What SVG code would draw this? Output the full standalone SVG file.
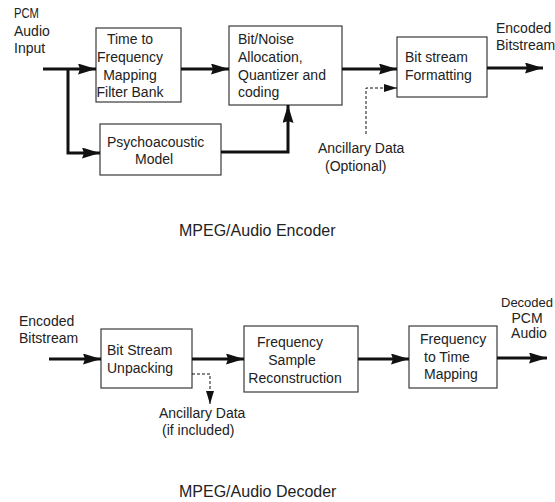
<svg xmlns="http://www.w3.org/2000/svg" width="555" height="502" viewBox="0 0 555 502">
  <style>
    .box { fill: #ffffff; stroke: #3a3a3a; stroke-width: 1.2; }
    .lbl { font-family: "Liberation Sans", Arial, sans-serif; font-size: 14px; fill: #222222; }
    .title { font-family: "Liberation Sans", Arial, sans-serif; font-size: 16px; fill: #222222; }
    .mid { text-anchor: middle; }
    .flow { fill: none; stroke: #111111; stroke-width: 3; }
    .aux { fill: none; stroke: #111111; stroke-width: 1; stroke-dasharray: 3 2; }
  </style>
  <defs>
    <marker id="head" markerUnits="userSpaceOnUse" markerWidth="18" markerHeight="11" refX="18" refY="5.5" orient="auto">
      <path d="M0,0 L18,5.5 L0,11 L2,5.5 Z" fill="#111111"/>
    </marker>
    <marker id="headSmall" markerUnits="userSpaceOnUse" markerWidth="13" markerHeight="8" refX="13" refY="4" orient="auto">
      <path d="M0,0 L13,4 L0,8 Z" fill="#111111"/>
    </marker>
  </defs>

  <rect width="555" height="502" fill="#ffffff"/>

  <!-- Encoder -->
  <g id="pcm-input">
    <text class="lbl" x="14" y="18" textLength="25" lengthAdjust="spacingAndGlyphs">PCM</text>
    <text class="lbl" x="14" y="36">Audio</text>
    <text class="lbl" x="14" y="53">Input</text>
  </g>

  <g id="filter-bank">
    <rect class="box" x="96" y="28" width="85" height="74"/>
    <text class="lbl mid" x="130" y="44">Time to</text>
    <text class="lbl mid" x="130" y="62">Frequency</text>
    <text class="lbl mid" x="130" y="80">Mapping</text>
    <text class="lbl mid" x="130" y="97">Filter Bank</text>
  </g>

  <g id="psychoacoustic">
    <rect class="box" x="100" y="124" width="121" height="51"/>
    <text class="lbl" x="107" y="147">Psychoacoustic</text>
    <text class="lbl" x="135" y="164">Model</text>
  </g>

  <g id="bit-allocation">
    <rect class="box" x="229" y="26" width="113" height="79"/>
    <text class="lbl" x="238" y="44">Bit/Noise</text>
    <text class="lbl" x="238" y="62">Allocation,</text>
    <text class="lbl" x="238" y="80">Quantizer and</text>
    <text class="lbl" x="238" y="97">coding</text>
  </g>

  <g id="bitstream-formatting">
    <rect class="box" x="397" y="37" width="90" height="60"/>
    <text class="lbl" x="405" y="62">Bit stream</text>
    <text class="lbl" x="405" y="80">Formatting</text>
  </g>

  <g id="encoded-output">
    <text class="lbl" x="496" y="33">Encoded</text>
    <text class="lbl" x="496" y="50">Bitstream</text>
  </g>

  <g id="ancillary-in">
    <text class="lbl" x="318" y="153">Ancillary Data</text>
    <text class="lbl" x="325" y="171">(Optional)</text>
  </g>

  <text id="encoder-title" class="title" x="179" y="236">MPEG/Audio Encoder</text>

  <!-- Decoder -->
  <g id="encoded-input">
    <text class="lbl" x="19" y="326">Encoded</text>
    <text class="lbl" x="19" y="343">Bitstream</text>
  </g>

  <g id="unpacking">
    <rect class="box" x="101" y="329" width="91" height="59"/>
    <text class="lbl" x="107" y="355">Bit Stream</text>
    <text class="lbl" x="107" y="373">Unpacking</text>
  </g>

  <g id="ancillary-out">
    <text class="lbl" x="159" y="418">Ancillary Data</text>
    <text class="lbl" x="162" y="435">(if included)</text>
  </g>

  <g id="reconstruction">
    <rect class="box" x="244" y="326" width="114" height="66"/>
    <text class="lbl mid" x="290" y="347">Frequency</text>
    <text class="lbl mid" x="292" y="365">Sample</text>
    <text class="lbl mid" x="295" y="383">Reconstruction</text>
  </g>

  <g id="synthesis">
    <rect class="box" x="409" y="326" width="88" height="62"/>
    <text class="lbl" x="420" y="344">Frequency</text>
    <text class="lbl" x="424" y="362">to Time</text>
    <text class="lbl" x="424" y="379">Mapping</text>
  </g>

  <g id="decoded-output">
    <text class="lbl" x="501" y="307" style="font-size:13px">Decoded</text>
    <text class="lbl mid" x="527" y="323">PCM</text>
    <text class="lbl mid" x="529" y="338">Audio</text>
  </g>

  <text id="decoder-title" class="title" x="179" y="497">MPEG/Audio Decoder</text>

  <!-- Connectors -->
  <g id="connectors">
    <path class="flow" d="M43,69 H96" marker-end="url(#head)"/>
    <path class="flow" d="M68,69 V153 H100" marker-end="url(#head)"/>
    <path class="flow" d="M181,69 H229" marker-end="url(#head)"/>
    <path class="flow" d="M221,152 H288 V105" marker-end="url(#head)"/>
    <path class="flow" d="M342,69 H397" marker-end="url(#head)"/>
    <path class="flow" d="M487,68 H543" marker-end="url(#head)"/>
    <path class="aux" d="M366,134 V88 H397" marker-end="url(#headSmall)"/>

    <path class="flow" d="M49,359 H101" marker-end="url(#head)"/>
    <path class="flow" d="M192,359 H244" marker-end="url(#head)"/>
    <path class="aux" d="M192,374 H210 V404" marker-end="url(#headSmall)"/>
    <path class="flow" d="M358,359 H409" marker-end="url(#head)"/>
    <path class="flow" d="M497,358 H547" marker-end="url(#head)"/>
  </g>
</svg>
